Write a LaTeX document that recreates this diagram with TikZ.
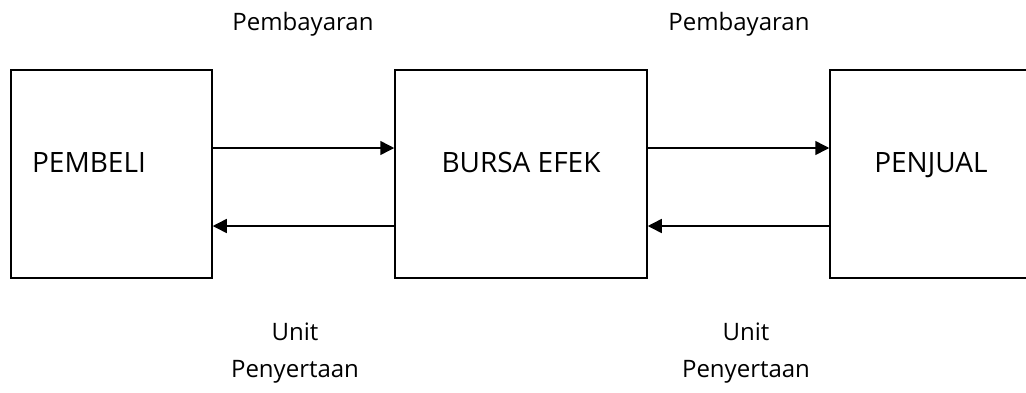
\documentclass[tikz,border=0pt]{standalone}
\usepackage{fontspec}
\setmainfont{Open Sans}
\usetikzlibrary{arrows.meta}

\tikzset{
	box/.style={draw, line width=1.5pt, minimum height=208pt, inner sep=0pt},
	boxtext/.style={font=\fontsize{28}{34}\selectfont, inner sep=0pt, anchor=base},
	flowlabel/.style={font=\fontsize{24}{36.6}\selectfont, align=center, inner sep=0pt},
	flow/.style={line width=1.5pt, -{Triangle[length=14pt,width=14pt]}}
}

\begin{document}
\begin{tikzpicture}[x=1pt,y=-1pt]
	\useasboundingbox (0,0) rectangle (1026,392);
	\clip (0,0) rectangle (1026,392);

	\node[box, minimum width=201pt] (pembeli) at (111.5,174) {};
	\node[box, minimum width=252pt] (bursa) at (521,174) {};
	\node[box, minimum width=202pt] (penjual) at (931,174) {};

	\node[boxtext] (pembelitext) at (89,172) {PEMBELI};
	\node[boxtext] (bursatext) at (521,172) {BURSA EFEK};
	\node[boxtext] (penjualtext) at (931,172) {PENJUAL};

	\draw[flow] ([yshift=26pt]pembeli.east) -- ([yshift=26pt]bursa.west);
	\draw[flow] ([yshift=-52pt]bursa.west) -- ([yshift=-52pt]pembeli.east);
	\draw[flow] ([yshift=26pt]bursa.east) -- ([yshift=26pt]penjual.west);
	\draw[flow] ([yshift=-52pt]penjual.west) -- ([yshift=-52pt]bursa.east);

	\node[flowlabel] (bayar1) at (303,24) {Pembayaran};
	\node[flowlabel] (bayar2) at (739,24) {Pembayaran};
	\node[flowlabel, anchor=base] (unit1) at (295,377) {Unit\\Penyertaan};
	\node[flowlabel, anchor=base] (unit2) at (746,377) {Unit\\Penyertaan};
\end{tikzpicture}
\end{document}
